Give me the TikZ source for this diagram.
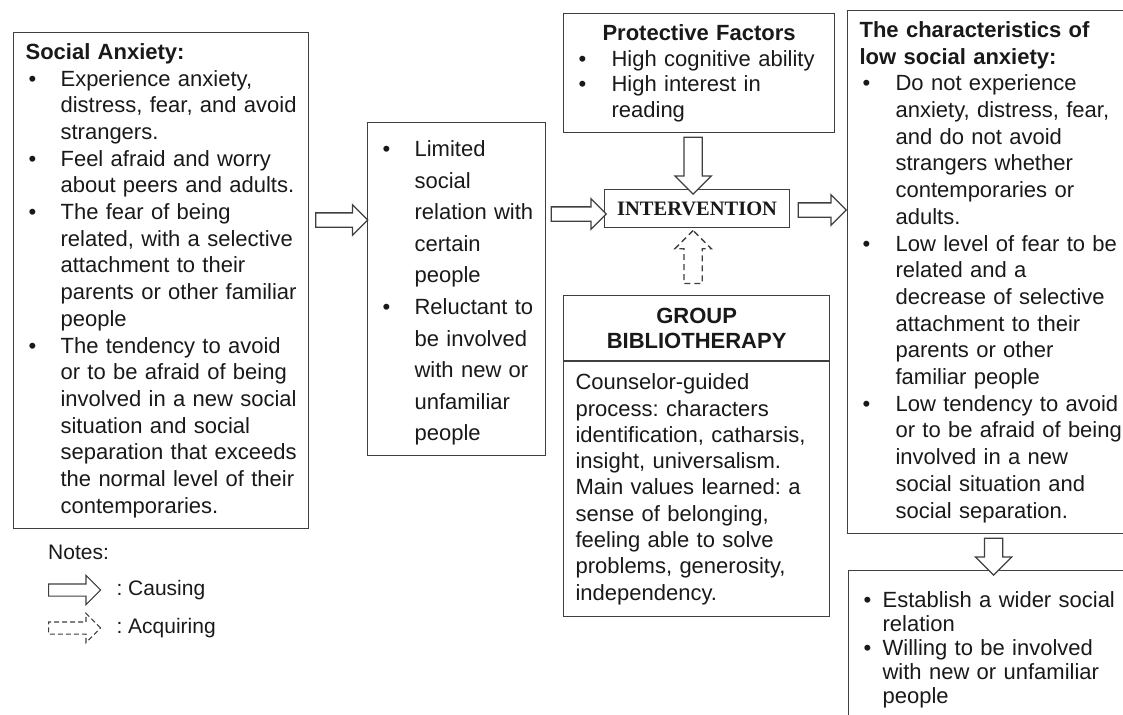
\documentclass[tikz,border=0pt]{standalone}
\usepackage{fontspec}
\setmainfont{Liberation Sans}
\newfontfamily\serifbold{Liberation Serif}
\usepackage[usenames,dvipsnames]{xcolor}
\usepackage{tikz}
\usetikzlibrary{shapes.arrows, positioning}

\definecolor{linegray}{HTML}{3F3F3F}
\newcommand{\bul}[2]{\par\noindent\hangindent=#2\hangafter=1%
  \makebox[#2][l]{\hspace*{#1}\textbullet}\ignorespaces}
\frenchspacing

\begin{document}
\begin{tikzpicture}[x=1pt, y=-1pt,
panel/.style={draw=linegray, line width=1.2pt, anchor=north west, inner xsep=0pt,
  inner ysep=0pt, align=left, text=black!90, font=\fontsize{22}{26.7}\selectfont},
%
causing/.style={single arrow, draw=linegray, line width=1.3pt, fill=white,
  inner xsep=0pt, inner ysep=6.5pt, single arrow head extend=8pt,
  single arrow tip angle=90},
%
vcausing/.style={causing, inner ysep=8.5pt, single arrow head extend=9pt},
%
acquiring/.style={vcausing, dash pattern=on 6pt off 4pt},
%
legend/.style={inner sep=0pt, text=black!90, font=\fontsize{21}{25}\selectfont}]

\useasboundingbox (0,0) rectangle (1123,714);

\begin{scope}
  %%%%%%%%%%%%%%%%%%%%%%%%%%%%%%
  \node [panel, text width=295pt, minimum height=496pt] (social) at (13,32) {%
    \leftskip=12pt
    \textbf{Social Anxiety:}
    \bul{3pt}{35pt}Experience anxiety,\newline distress, fear, and avoid\newline strangers.
    \bul{3pt}{35pt}Feel afraid and worry\newline about peers and adults.
    \bul{3pt}{35pt}The fear of being\newline related, with a selective\newline attachment to their\newline parents or other familiar\newline people
    \bul{3pt}{35pt}The tendency to avoid\newline or to be afraid of being\newline involved in a new social\newline situation and social\newline separation that exceeds\newline the normal level of their\newline contemporaries.\par};
  %%%%%%%%%%%%%%%%%%%%%%%%%%%%%%
  \node [panel, text width=178pt, minimum height=333pt,
    font=\fontsize{22}{31.6}\selectfont] (limited) at (367,122) {%
    \leftskip=15pt
    \bul{0pt}{32pt}Limited\newline social\newline relation with\newline certain\newline people
    \bul{0pt}{32pt}Reluctant to\newline be involved\newline with new or\newline unfamiliar\newline people\par
    \vspace*{8pt}};
  %%%%%%%%%%%%%%%%%%%%%%%%%%%%%%
  \node [panel, text width=271pt, minimum height=119pt,
    font=\fontsize{22}{25.5}\selectfont] (protective) at (563,13) {%
    {\centering\textbf{Protective Factors}\par}
    \leftskip=15pt
    \bul{0pt}{33pt}High cognitive ability
    \bul{0pt}{33pt}High interest in\newline reading\par};
  %%%%%%%%%%%%%%%%%%%%%%%%%%%%%%
  \node [panel, minimum width=185pt, minimum height=38pt, align=center,
    font=\serifbold\bfseries\fontsize{20.5}{24}\selectfont] (intervention)
    at (604,189) {INTERVENTION};
  %%%%%%%%%%%%%%%%%%%%%%%%%%%%%%
  \node [panel, text width=266pt, minimum height=65pt, align=center,
    font=\bfseries\fontsize{22}{25}\selectfont] (grouphead) at (563,295)
    {GROUP\\BIBLIOTHERAPY};
  \node [panel, text width=266pt, minimum height=255pt, anchor=north,
    font=\fontsize{22}{26.3}\selectfont] (groupbody) at (grouphead.south) {%
    \leftskip=12pt
    Counselor-guided\newline process: characters\newline identification, catharsis,\newline insight, universalism.\newline Main values learned: a\newline sense of belonging,\newline feeling able to solve\newline problems, generosity,\newline independency.\par};
  %%%%%%%%%%%%%%%%%%%%%%%%%%%%%%
  \node [panel, text width=292pt, minimum height=523pt] (lowanx) at (847,10) {%
    \leftskip=12pt
    \textbf{The characteristics of\newline low social anxiety:}
    \bul{3pt}{36pt}Do not experience\newline anxiety, distress, fear,\newline and do not avoid\newline strangers whether\newline contemporaries or\newline adults.
    \bul{3pt}{36pt}Low level of fear to be\newline related and a\newline decrease of selective\newline attachment to their\newline parents or other\newline familiar people
    \bul{3pt}{36pt}Low tendency to avoid\newline or to be afraid of being\newline involved in a new\newline social situation and\newline social separation.\par};
  %%%%%%%%%%%%%%%%%%%%%%%%%%%%%%
  \node [panel, text width=290pt, inner ysep=13pt,
    font=\fontsize{22}{24}\selectfont] (outcome) at (848,570) {%
    \leftskip=15pt
    \bul{0pt}{19pt}Establish a wider social\newline relation
    \bul{0pt}{19pt}Willing to be involved\newline with new or unfamiliar\newline people\par
    \vspace*{14pt}};
\end{scope}

\begin{scope}
  \coordinate (r1) at (0,220);
  \coordinate (r2) at (0,214);
  \coordinate (r3) at (0,210);
  \coordinate (col) at ([xshift=-4pt]intervention.center);
  %%%%%%%%%%%%%%%%%%%%%%%%%%%%%%
  \path (social.east |- r1) -- (limited.west |- r1)
    node [causing, sloped, midway, minimum height=52pt] {};
  \path (limited.east |- r2) -- (intervention.west |- r2)
    node [causing, sloped, midway, minimum height=55pt] {};
  \path (intervention.east |- r3) -- (lowanx.west |- r3)
    node [causing, sloped, midway, minimum height=48pt] {};
  %%%%%%%%%%%%%%%%%%%%%%%%%%%%%%
  \path (col |- protective.south) -- (col |- intervention.north)
    node [vcausing, sloped, midway, minimum height=57pt] {};
  \path (col |- grouphead.north) -- (col |- intervention.south)
    node [acquiring, sloped, midway, minimum height=53pt] {};
  \path (lowanx.south) -- (outcome.north)
    node [vcausing, sloped, midway, minimum height=37pt] {};
\end{scope}

\begin{scope}
  \node [legend, anchor=west] (notes) at (48,552) {Notes:};
  \node [causing, line width=1.1pt, inner ysep=5.5pt, single arrow head extend=8.5pt,
    minimum height=52pt, anchor=west] (keycause) at (48,590) {};
  \node [legend, right=15pt of keycause] {: Causing};
  \node [causing, line width=1.1pt, inner ysep=5.5pt, single arrow head extend=8.5pt,
    minimum height=52pt, anchor=west, dash pattern=on 5pt off 3pt] (keyacq) at (48,628) {};
  \node [legend, right=15pt of keyacq] {: Acquiring};
\end{scope}

\end{tikzpicture}
\end{document}
